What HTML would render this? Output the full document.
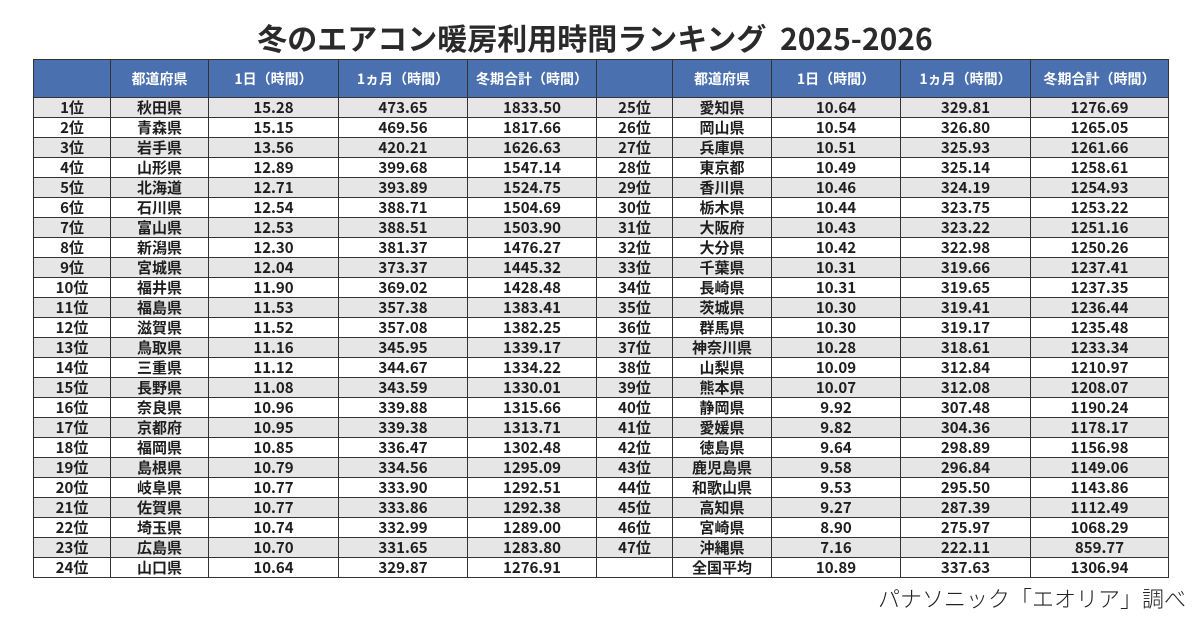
<!DOCTYPE html>
<html><head><meta charset="utf-8"><style>
html,body{margin:0;padding:0;background:#fff;width:1200px;height:620px;overflow:hidden}
body{position:relative;font-family:"Liberation Sans","Noto Sans CJK JP",sans-serif;color:#222}
.title{position:absolute;left:0;width:1190px;top:17px;text-align:center;font-size:30px;font-weight:bold;color:#2a2a2a;line-height:40px;font-family:"Noto Sans CJK JP","Liberation Sans",sans-serif}
table{position:absolute;left:33px;top:59px;border-collapse:collapse;table-layout:fixed;width:1135px}
td,th{border:1.5px solid #333;padding:0;text-align:center;overflow:hidden;white-space:nowrap}
th{background:#4a70b0;color:#fff;height:37px;font-size:14px;font-weight:bold;font-family:"Noto Sans CJK JP","Liberation Sans",sans-serif}
td{height:19px;font-size:15px;line-height:18px;font-family:"Noto Sans CJK JP","Liberation Sans",sans-serif;font-weight:600;color:#1e1e1e}
tr.g td{background:#e6e6e6}
.src{position:absolute;right:14px;top:582px;font-size:22px;color:#222;font-family:"Noto Sans CJK JP",sans-serif;font-weight:300}
</style></head><body>
<div class="title">冬のエアコン暖房利用時間ランキング&nbsp; 2025-2026</div>
<table>
<colgroup><col style="width:77px"><col style="width:98px"><col style="width:130px"><col style="width:129px"><col style="width:129px"><col style="width:76px"><col style="width:99px"><col style="width:129px"><col style="width:130px"><col style="width:138px"></colgroup>
<tr><th></th><th>都道府県</th><th>1日（時間）</th><th>1ヵ月（時間）</th><th>冬期合計（時間）</th><th></th><th>都道府県</th><th>1日（時間）</th><th>1ヵ月（時間）</th><th>冬期合計（時間）</th></tr>
<tr class="g"><td>1位</td><td>秋田県</td><td>15.28</td><td>473.65</td><td>1833.50</td><td>25位</td><td>愛知県</td><td>10.64</td><td>329.81</td><td>1276.69</td></tr>
<tr><td>2位</td><td>青森県</td><td>15.15</td><td>469.56</td><td>1817.66</td><td>26位</td><td>岡山県</td><td>10.54</td><td>326.80</td><td>1265.05</td></tr>
<tr class="g"><td>3位</td><td>岩手県</td><td>13.56</td><td>420.21</td><td>1626.63</td><td>27位</td><td>兵庫県</td><td>10.51</td><td>325.93</td><td>1261.66</td></tr>
<tr><td>4位</td><td>山形県</td><td>12.89</td><td>399.68</td><td>1547.14</td><td>28位</td><td>東京都</td><td>10.49</td><td>325.14</td><td>1258.61</td></tr>
<tr class="g"><td>5位</td><td>北海道</td><td>12.71</td><td>393.89</td><td>1524.75</td><td>29位</td><td>香川県</td><td>10.46</td><td>324.19</td><td>1254.93</td></tr>
<tr><td>6位</td><td>石川県</td><td>12.54</td><td>388.71</td><td>1504.69</td><td>30位</td><td>栃木県</td><td>10.44</td><td>323.75</td><td>1253.22</td></tr>
<tr class="g"><td>7位</td><td>富山県</td><td>12.53</td><td>388.51</td><td>1503.90</td><td>31位</td><td>大阪府</td><td>10.43</td><td>323.22</td><td>1251.16</td></tr>
<tr><td>8位</td><td>新潟県</td><td>12.30</td><td>381.37</td><td>1476.27</td><td>32位</td><td>大分県</td><td>10.42</td><td>322.98</td><td>1250.26</td></tr>
<tr class="g"><td>9位</td><td>宮城県</td><td>12.04</td><td>373.37</td><td>1445.32</td><td>33位</td><td>千葉県</td><td>10.31</td><td>319.66</td><td>1237.41</td></tr>
<tr><td>10位</td><td>福井県</td><td>11.90</td><td>369.02</td><td>1428.48</td><td>34位</td><td>長崎県</td><td>10.31</td><td>319.65</td><td>1237.35</td></tr>
<tr class="g"><td>11位</td><td>福島県</td><td>11.53</td><td>357.38</td><td>1383.41</td><td>35位</td><td>茨城県</td><td>10.30</td><td>319.41</td><td>1236.44</td></tr>
<tr><td>12位</td><td>滋賀県</td><td>11.52</td><td>357.08</td><td>1382.25</td><td>36位</td><td>群馬県</td><td>10.30</td><td>319.17</td><td>1235.48</td></tr>
<tr class="g"><td>13位</td><td>鳥取県</td><td>11.16</td><td>345.95</td><td>1339.17</td><td>37位</td><td>神奈川県</td><td>10.28</td><td>318.61</td><td>1233.34</td></tr>
<tr><td>14位</td><td>三重県</td><td>11.12</td><td>344.67</td><td>1334.22</td><td>38位</td><td>山梨県</td><td>10.09</td><td>312.84</td><td>1210.97</td></tr>
<tr class="g"><td>15位</td><td>長野県</td><td>11.08</td><td>343.59</td><td>1330.01</td><td>39位</td><td>熊本県</td><td>10.07</td><td>312.08</td><td>1208.07</td></tr>
<tr><td>16位</td><td>奈良県</td><td>10.96</td><td>339.88</td><td>1315.66</td><td>40位</td><td>静岡県</td><td>9.92</td><td>307.48</td><td>1190.24</td></tr>
<tr class="g"><td>17位</td><td>京都府</td><td>10.95</td><td>339.38</td><td>1313.71</td><td>41位</td><td>愛媛県</td><td>9.82</td><td>304.36</td><td>1178.17</td></tr>
<tr><td>18位</td><td>福岡県</td><td>10.85</td><td>336.47</td><td>1302.48</td><td>42位</td><td>徳島県</td><td>9.64</td><td>298.89</td><td>1156.98</td></tr>
<tr class="g"><td>19位</td><td>島根県</td><td>10.79</td><td>334.56</td><td>1295.09</td><td>43位</td><td>鹿児島県</td><td>9.58</td><td>296.84</td><td>1149.06</td></tr>
<tr><td>20位</td><td>岐阜県</td><td>10.77</td><td>333.90</td><td>1292.51</td><td>44位</td><td>和歌山県</td><td>9.53</td><td>295.50</td><td>1143.86</td></tr>
<tr class="g"><td>21位</td><td>佐賀県</td><td>10.77</td><td>333.86</td><td>1292.38</td><td>45位</td><td>高知県</td><td>9.27</td><td>287.39</td><td>1112.49</td></tr>
<tr><td>22位</td><td>埼玉県</td><td>10.74</td><td>332.99</td><td>1289.00</td><td>46位</td><td>宮崎県</td><td>8.90</td><td>275.97</td><td>1068.29</td></tr>
<tr class="g"><td>23位</td><td>広島県</td><td>10.70</td><td>331.65</td><td>1283.80</td><td>47位</td><td>沖縄県</td><td>7.16</td><td>222.11</td><td>859.77</td></tr>
<tr><td>24位</td><td>山口県</td><td>10.64</td><td>329.87</td><td>1276.91</td><td></td><td>全国平均</td><td>10.89</td><td>337.63</td><td>1306.94</td></tr>
</table>
<div class="src">パナソニック「エオリア」調べ</div>
</body></html>
